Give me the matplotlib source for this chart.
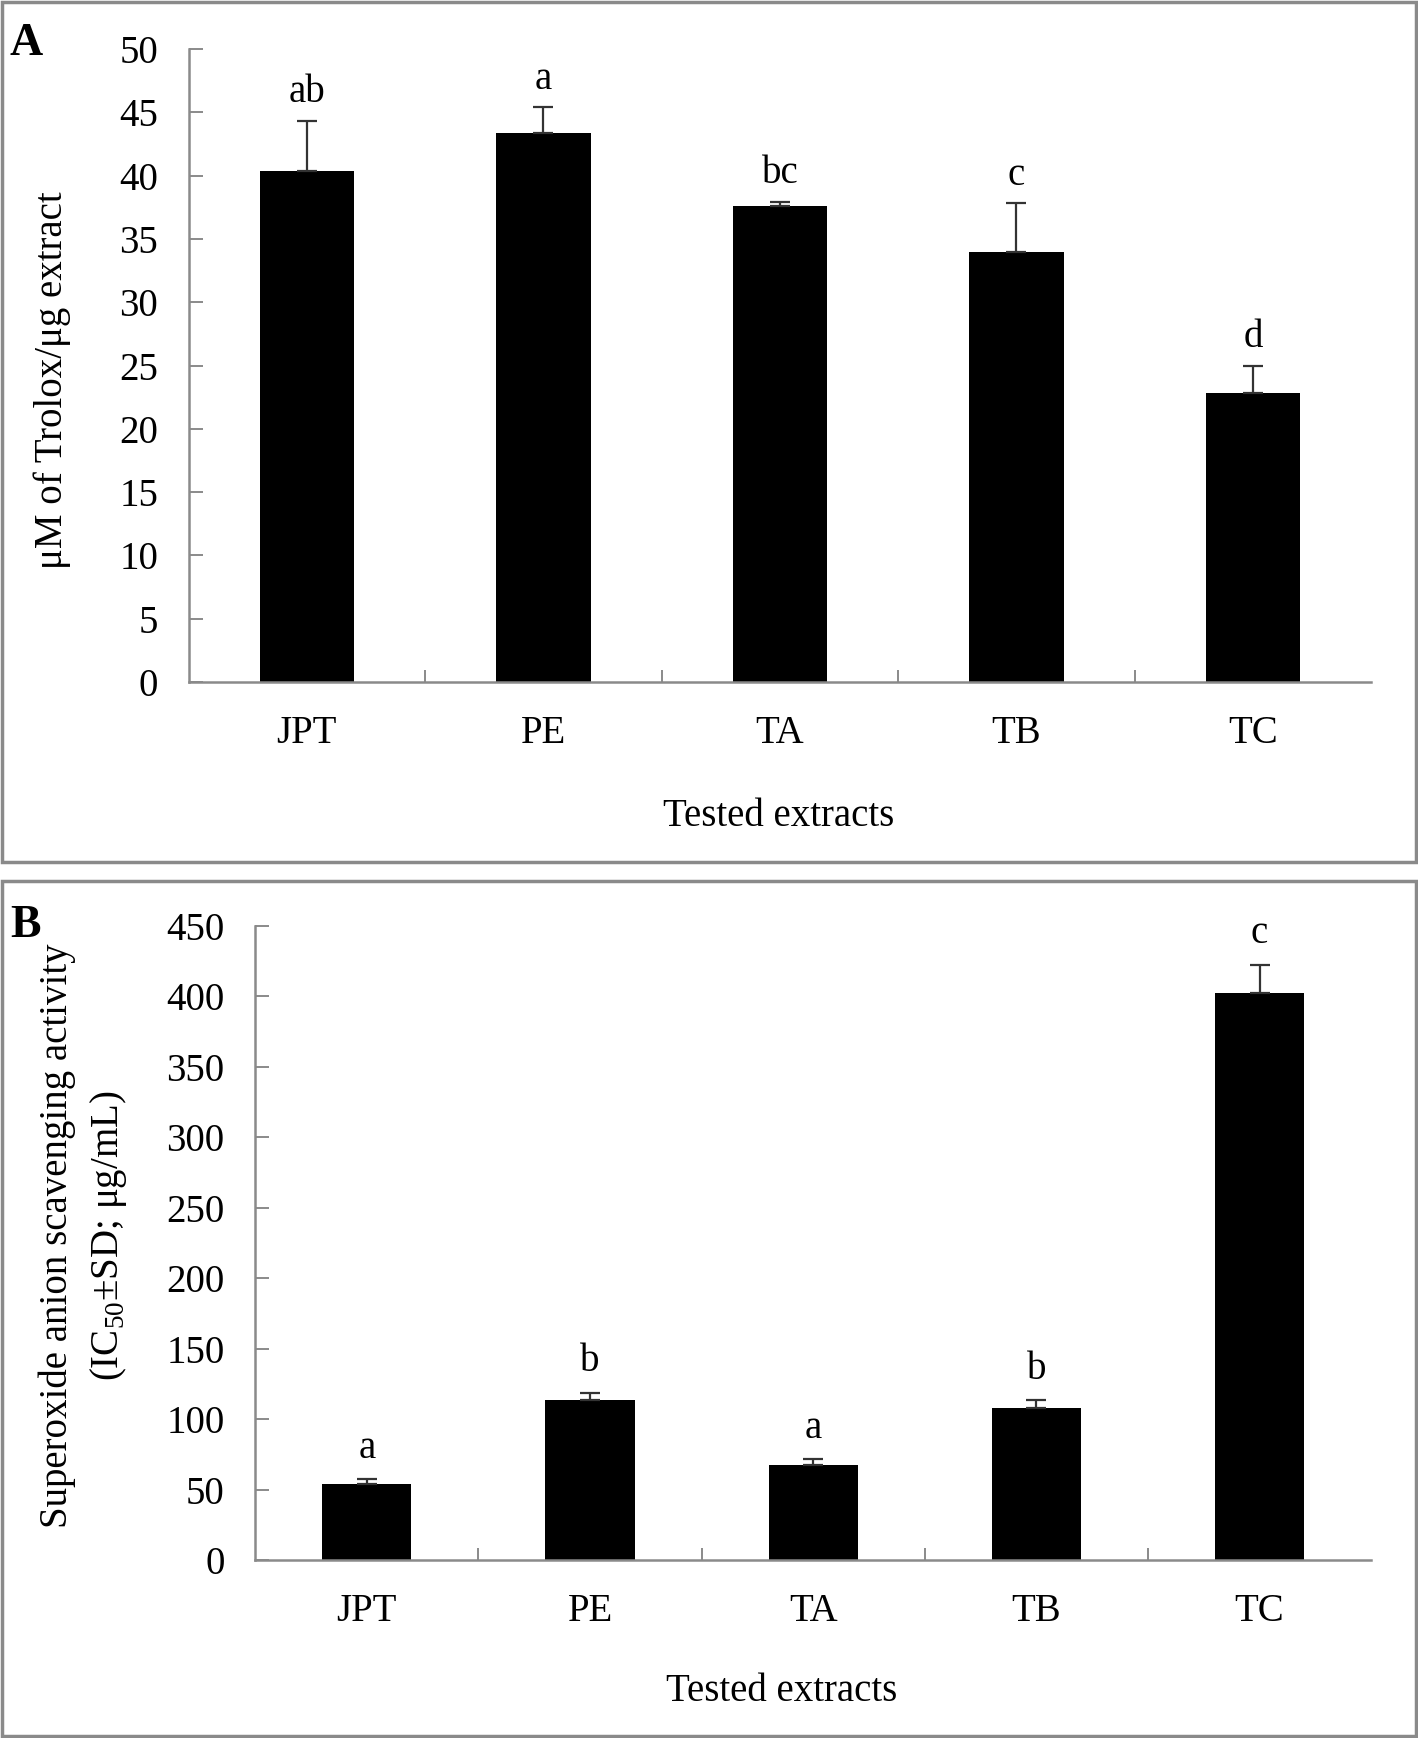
import matplotlib
matplotlib.use("Agg")
import matplotlib.pyplot as plt
from matplotlib.patches import Rectangle

plt.rcParams["font.family"] = ["Liberation Serif", "DejaVu Serif"]
plt.rcParams["mathtext.fontset"] = "custom"
plt.rcParams["mathtext.rm"] = "Liberation Serif"

# shared categories
extracts = ["JPT", "PE", "TA", "TB", "TC"]

# panel A: Trolox equivalents
trolox_mean = [40.4, 43.4, 37.6, 34.0, 22.8]
trolox_sd = [3.9, 2.0, 0.35, 3.8, 2.2]
trolox_letters = ["ab", "a", "bc", "c", "d"]

# panel B: superoxide anion scavenging IC50
ic50_mean = [54.3, 113.3, 67.7, 107.8, 402.8]
ic50_sd = [3.1, 5.5, 3.9, 5.5, 19.7]
ic50_letters = ["a", "b", "a", "b", "c"]

GREY = "#8a8a8a"
FS = 28


def bar_panel(ax, means, sds, letters, ymax, ystep, letter_off):
    x = range(len(extracts))
    ax.bar(x, means, width=0.4, color="black", zorder=2)
    ax.errorbar(x, means, yerr=[[0] * len(sds), sds], fmt="none",
                ecolor="#333333", elinewidth=1.6, capsize=7.5, capthick=1.6, zorder=3)
    for i, (m, s, lab) in enumerate(zip(means, sds, letters)):
        ax.annotate(lab, (i, m + s), xytext=(0, letter_off), textcoords="offset points",
                    ha="center", va="bottom", fontsize=FS)
    ax.set_xlim(-0.5, len(extracts) - 0.5)
    ax.set_ylim(0, ymax)
    ax.set_yticks(range(0, ymax + 1, ystep))
    # short ticks between the bars, names under the bars
    ax.set_xticks([i + 0.5 for i in range(len(extracts) - 1)])
    ax.set_xticklabels([])
    ax.set_xticks(list(x), minor=True)
    ax.set_xticklabels(extracts, minor=True, fontsize=FS)
    ax.tick_params(axis="x", which="minor", length=0, pad=24)
    ax.tick_params(axis="x", which="major", direction="in", length=9, color=GREY, width=1.4)
    ax.tick_params(axis="y", direction="in", length=10, color=GREY, width=1.4,
                   labelsize=FS, pad=22)
    for sp in ("top", "right"):
        ax.spines[sp].set_visible(False)
    for sp in ("left", "bottom"):
        ax.spines[sp].set_color(GREY)
        ax.spines[sp].set_linewidth(1.8)


fig = plt.figure(figsize=(14.18, 17.38), dpi=100)

axA = fig.add_axes([0.133, 0.6076, 0.967 - 0.133, 0.9718 - 0.6076])
bar_panel(axA, trolox_mean, trolox_sd, trolox_letters, 50, 5, 7)

axB = fig.add_axes([0.180, 0.1024, 0.967 - 0.180, 0.4672 - 0.1024])
bar_panel(axB, ic50_mean, ic50_sd, ic50_letters, 450, 50, 9)

# axis titles
fig.text(0.037, 0.781, "μM of Trolox/μg extract", rotation=90,
         ha="center", va="center", fontsize=FS)
fig.text(0.059, 0.289, "Superoxide anion scavenging activity\n(IC$_{50}$±SD; μg/mL)",
         rotation=90, ha="center", va="center", fontsize=FS, multialignment="center",
         linespacing=1.4)
fig.text(0.549, 0.530, "Tested extracts", ha="center", va="center", fontsize=FS)
fig.text(0.551, 0.027, "Tested extracts", ha="center", va="center", fontsize=FS)

# panel letters
fig.text(0.007, 0.987, "A", fontsize=33, fontweight="bold", ha="left", va="top")
fig.text(0.007, 0.479, "B", fontsize=33, fontweight="bold", ha="left", va="top")

# grey frames round each panel
W, H = 1418, 1738
for (x0, y0, x1, y1) in [(2, 2, 1416, 862), (2, 881, 1416, 1736)]:
    fig.add_artist(Rectangle((x0 / W, 1 - y1 / H), (x1 - x0) / W, (y1 - y0) / H,
                             transform=fig.transFigure, fill=False,
                             edgecolor=GREY, linewidth=2.5))

fig.savefig("out.png", dpi=100)
